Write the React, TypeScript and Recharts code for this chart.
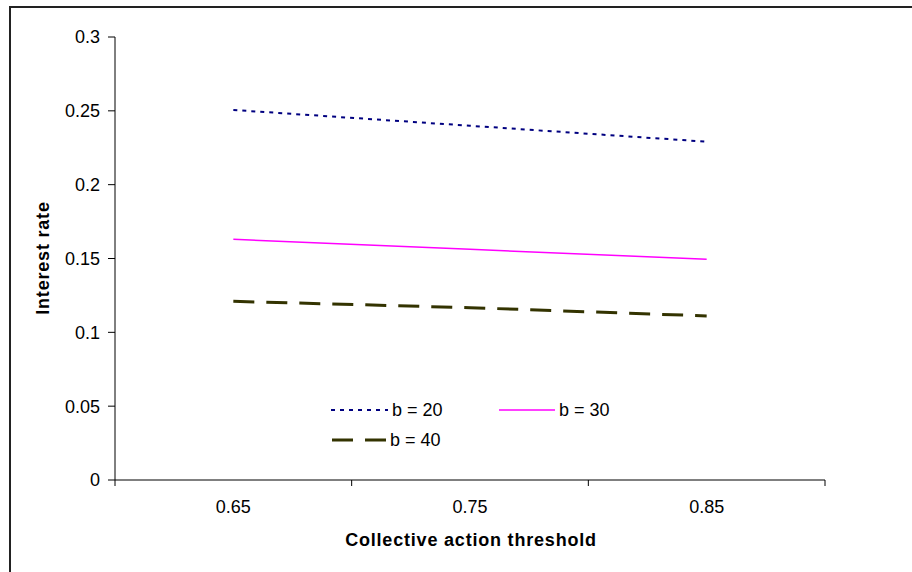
import { LineChart, Line, XAxis, YAxis } from 'recharts'

const thresholds = [0.65, 0.75, 0.85]
const bandEdges = [0.6, 0.7, 0.8, 0.9]
const b20 = [0.2506, 0.2399, 0.2291]
const b30 = [0.163, 0.1562, 0.1495]
const b40 = [0.121, 0.1167, 0.1111]
const yTicks = [0, 0.05, 0.1, 0.15, 0.2, 0.25, 0.3]

const data = thresholds.map((t, i) => ({ t, b20: b20[i], b30: b30[i], b40: b40[i] }))

const FONT = '"Liberation Sans", Arial, sans-serif'

function XTick(props: any) {
    const { x, y, payload } = props
    if (bandEdges.includes(payload.value)) {
        return <line x1={x} y1={y - 8} x2={x} y2={y - 2} stroke="#000" strokeWidth={1} />
    }
    return (
        <text x={x} y={y + 25} textAnchor="middle" fontSize={18} fontFamily={FONT} fill="#000">
            {payload.value}
        </text>
    )
}

function LegendBox() {
    const item = (dash: string | undefined, color: string, width: number, label: string, lx: number, ly: number, len: number) => (
        <g key={label}>
            <line x1={lx} y1={ly} x2={lx + len} y2={ly} stroke={color} strokeWidth={width} strokeDasharray={dash} />
            <text x={lx + len + 4} y={ly + 6} fontSize={18} fontFamily={FONT} fill="#000">{label}</text>
        </g>
    )
    return (
        <svg width={320} height={50} style={{ position: 'absolute', left: 330, top: 400 }}>
            {item('4 5', '#000080', 2, 'b = 20', 1, 10, 57)}
            {item(undefined, '#ff00ff', 1.5, 'b = 30', 169, 10, 56)}
            {item('21 12', '#333300', 3, 'b = 40', 2, 40, 54)}
        </svg>
    )
}

export default function App() {
    return (
        <div style={{ position: 'absolute', left: 0, top: 0, width: 912, height: 572, background: '#fff', fontFamily: FONT }}>
            <div style={{ position: 'absolute', left: 9, top: 6, right: 0, bottom: 0, borderTop: '2px solid #222', borderLeft: '2px solid #222' }} />
            <div style={{ position: 'absolute', left: 0, top: 0 }}>
                <LineChart width={912} height={572} data={data} margin={{ top: 37, right: 87, left: 55, bottom: 62 }}>
                    <XAxis
                        dataKey="t"
                        type="number"
                        domain={[0.6, 0.9]}
                        ticks={[0.6, 0.65, 0.7, 0.75, 0.8, 0.85, 0.9]}
                        tickLine={false}
                        tick={<XTick />}
                        stroke="#000"
                        height={30}
                        interval={0}
                    />
                    <YAxis
                        domain={[0, 0.3]}
                        ticks={yTicks}
                        width={60}
                        tickSize={7}
                        tickMargin={8}
                        stroke="#000"
                        tick={{ fill: '#000', fontSize: 18, fontFamily: FONT }}
                        interval={0}
                    />
                    <Line dataKey="b20" name="b = 20" stroke="#000080" strokeWidth={2} strokeDasharray="4 5" dot={false} isAnimationActive={false} />
                    <Line dataKey="b30" name="b = 30" stroke="#ff00ff" strokeWidth={1.5} dot={false} isAnimationActive={false} />
                    <Line dataKey="b40" name="b = 40" stroke="#333300" strokeWidth={3} strokeDasharray="21 12" dot={false} isAnimationActive={false} />
                </LineChart>
            </div>
            <LegendBox />
            <div style={{ position: 'absolute', left: 0, top: 529, width: 942, textAlign: 'center', fontSize: 18, fontWeight: 'bold', letterSpacing: 0.8, lineHeight: '22px' }}>
                Collective action threshold
            </div>
            <div style={{ position: 'absolute', left: 43, top: 258, transform: 'translate(-50%, -50%) rotate(-90deg)', whiteSpace: 'nowrap', fontSize: 18, fontWeight: 'bold', letterSpacing: 0.8 }}>
                Interest rate
            </div>
        </div>
    )
}
